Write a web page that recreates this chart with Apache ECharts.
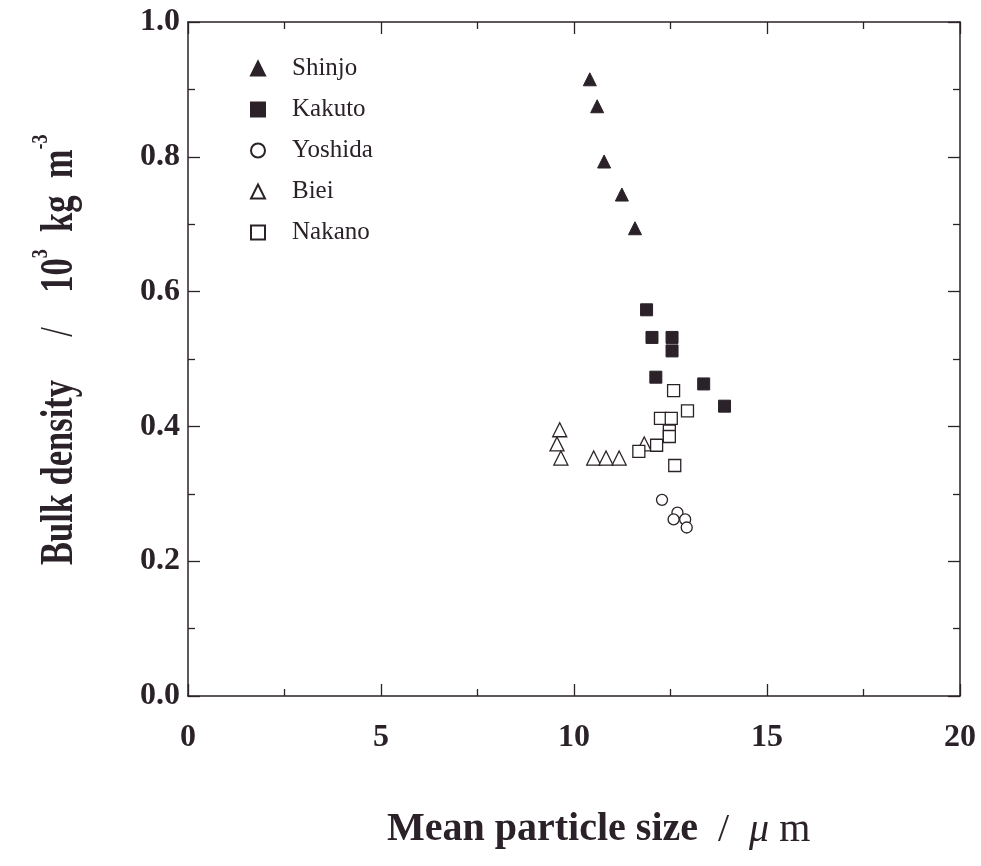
<!DOCTYPE html>
<html>
<head>
<meta charset="utf-8">
<script src="https://cdn.jsdelivr.net/npm/echarts@6/dist/echarts.min.js"></script>
<style>
  html, body { margin: 0; padding: 0; background: #ffffff; }
  #chart { width: 981px; height: 866px; }
</style>
</head>
<body>
<div id="chart"></div>
<script>
// Mean particle size (µm) vs bulk density (10^3 kg m^-3) for each sample site
const shinjo  = [[10.41, 0.915], [10.60, 0.875], [10.78, 0.793], [11.24, 0.744], [11.58, 0.694]];
const kakuto  = [[11.88, 0.573], [12.02, 0.532], [12.54, 0.532], [12.54, 0.512], [12.12, 0.473], [13.36, 0.463], [13.90, 0.430]];
const yoshida = [[12.28, 0.291], [12.68, 0.272], [12.58, 0.262], [12.88, 0.262], [12.92, 0.250]];
const biei    = [[9.63, 0.395], [9.56, 0.374], [9.66, 0.353], [10.51, 0.353], [10.83, 0.353], [11.17, 0.353], [11.82, 0.374]];
const nakano  = [[12.58, 0.453], [12.94, 0.423], [12.24, 0.412], [12.52, 0.412], [12.47, 0.393], [12.47, 0.385], [12.14, 0.372], [11.68, 0.363], [12.61, 0.342]];

const seriesNames = ['Shinjo', 'Kakuto', 'Yoshida', 'Biei', 'Nakano'];
const xTicks = [0, 5, 10, 15, 20];
const yTicks = [0.0, 0.2, 0.4, 0.6, 0.8, 1.0];

const INK = '#2a2228';
const SERIF = '"Liberation Serif", "DejaVu Serif", serif';

const chart = echarts.init(document.getElementById('chart'), null, { renderer: 'canvas' });

// frame lines stay on their own side instead of snapping to the zero of the other axis
const axisLine = { show: true, onZero: false, lineStyle: { color: INK, width: 1.5 } };
const majorTick = { show: true, inside: true, length: 12, lineStyle: { color: INK, width: 1.3 } };
const minorTick = { show: true, splitNumber: 2, length: 7, lineStyle: { color: INK, width: 1.3 } };
const tickFont = { fontFamily: SERIF, fontWeight: 'bold', fontSize: 32, color: INK };

function scatter(name, data, symbol, size, filled) {
  return {
    name: name,
    type: 'scatter',
    data: data,
    symbol: symbol,
    symbolSize: size,
    itemStyle: filled
      ? { color: INK, borderColor: INK, borderWidth: 1, opacity: 1 }
      : { color: '#ffffff', borderColor: INK, borderWidth: 1.3, opacity: 1 },
    emphasis: { disabled: true },
    z: 3
  };
}

const option = {
  backgroundColor: '#ffffff',
  animation: false,
  grid: { left: 188, right: 21, top: 22, bottom: 170, containLabel: false },
  legend: {
    orient: 'vertical',
    left: 245,
    top: 51,
    itemGap: 16,
    itemWidth: 14,
    itemHeight: 14,
    textStyle: { fontFamily: SERIF, fontSize: 25, color: INK, padding: [0, 0, 0, 22] },
    data: [
      { name: 'Shinjo',  icon: 'triangle' },
      { name: 'Kakuto',  icon: 'rect' },
      { name: 'Yoshida', icon: 'circle' },
      { name: 'Biei',    icon: 'triangle' },
      { name: 'Nakano',  icon: 'rect' }
    ],
    selectedMode: false
  },
  xAxis: [
    {
      type: 'value', min: 0, max: 20, interval: 5,
      axisLine: axisLine, axisTick: majorTick, minorTick: minorTick,
      splitLine: { show: false },
      axisLabel: Object.assign({ margin: 26, formatter: v => xTicks.indexOf(v) >= 0 ? String(v) : '' }, tickFont)
    },
    {
      type: 'value', min: 0, max: 20, interval: 5, position: 'top',
      axisLine: axisLine, axisTick: majorTick, minorTick: minorTick,
      splitLine: { show: false },
      axisLabel: { show: false }
    }
  ],
  yAxis: [
    {
      type: 'value', min: 0, max: 1, interval: 0.2,
      axisLine: axisLine, axisTick: majorTick, minorTick: minorTick,
      splitLine: { show: false },
      axisLabel: Object.assign({ margin: 8, formatter: v => v.toFixed(1) }, tickFont)
    },
    {
      type: 'value', min: 0, max: 1, interval: 0.2, position: 'right',
      axisLine: axisLine, axisTick: majorTick, minorTick: minorTick,
      splitLine: { show: false },
      axisLabel: { show: false }
    }
  ],
  series: [
    scatter('Shinjo',  shinjo,  'triangle', 13, true),
    scatter('Kakuto',  kakuto,  'rect',     12, true),
    scatter('Yoshida', yoshida, 'circle',   11, false),
    scatter('Biei',    biei,    'triangle', 14, false),
    scatter('Nakano',  nakano,  'rect',     12, false)
  ],
  graphic: [
    {
      // vertical axis title, read bottom to top, in a condensed bold serif
      type: 'text',
      x: 56, y: 565,
      rotation: Math.PI / 2,
      scaleX: 0.75,
      style: {
        text: '{b|Bulk density     }{r|/}{b|    10}{s|3}{b|  kg  m}{s|-3}',
        align: 'left',
        verticalAlign: 'middle',
        rich: {
          b: { fontFamily: SERIF, fontWeight: 'bold', fontSize: 46, fill: INK, lineHeight: 54, verticalAlign: 'bottom' },
          r: { fontFamily: SERIF, fontWeight: 'normal', fontSize: 46, fill: INK, lineHeight: 54, verticalAlign: 'bottom' },
          s: { fontFamily: SERIF, fontWeight: 'bold', fontSize: 24, fill: INK, lineHeight: 12, verticalAlign: 'top' }
        }
      }
    },
    {
      type: 'text',
      x: 387, y: 830,
      style: {
        text: '{b|Mean particle size}{r|  /  }{i|μ}{r| m}',
        align: 'left',
        verticalAlign: 'middle',
        rich: {
          b: { fontFamily: SERIF, fontWeight: 'bold', fontSize: 40, fill: INK },
          r: { fontFamily: SERIF, fontWeight: 'normal', fontSize: 40, fill: INK },
          i: { fontFamily: SERIF, fontStyle: 'italic', fontWeight: 'normal', fontSize: 40, fill: INK }
        }
      }
    }
  ]
};

chart.setOption(option);
</script>
</body>
</html>
